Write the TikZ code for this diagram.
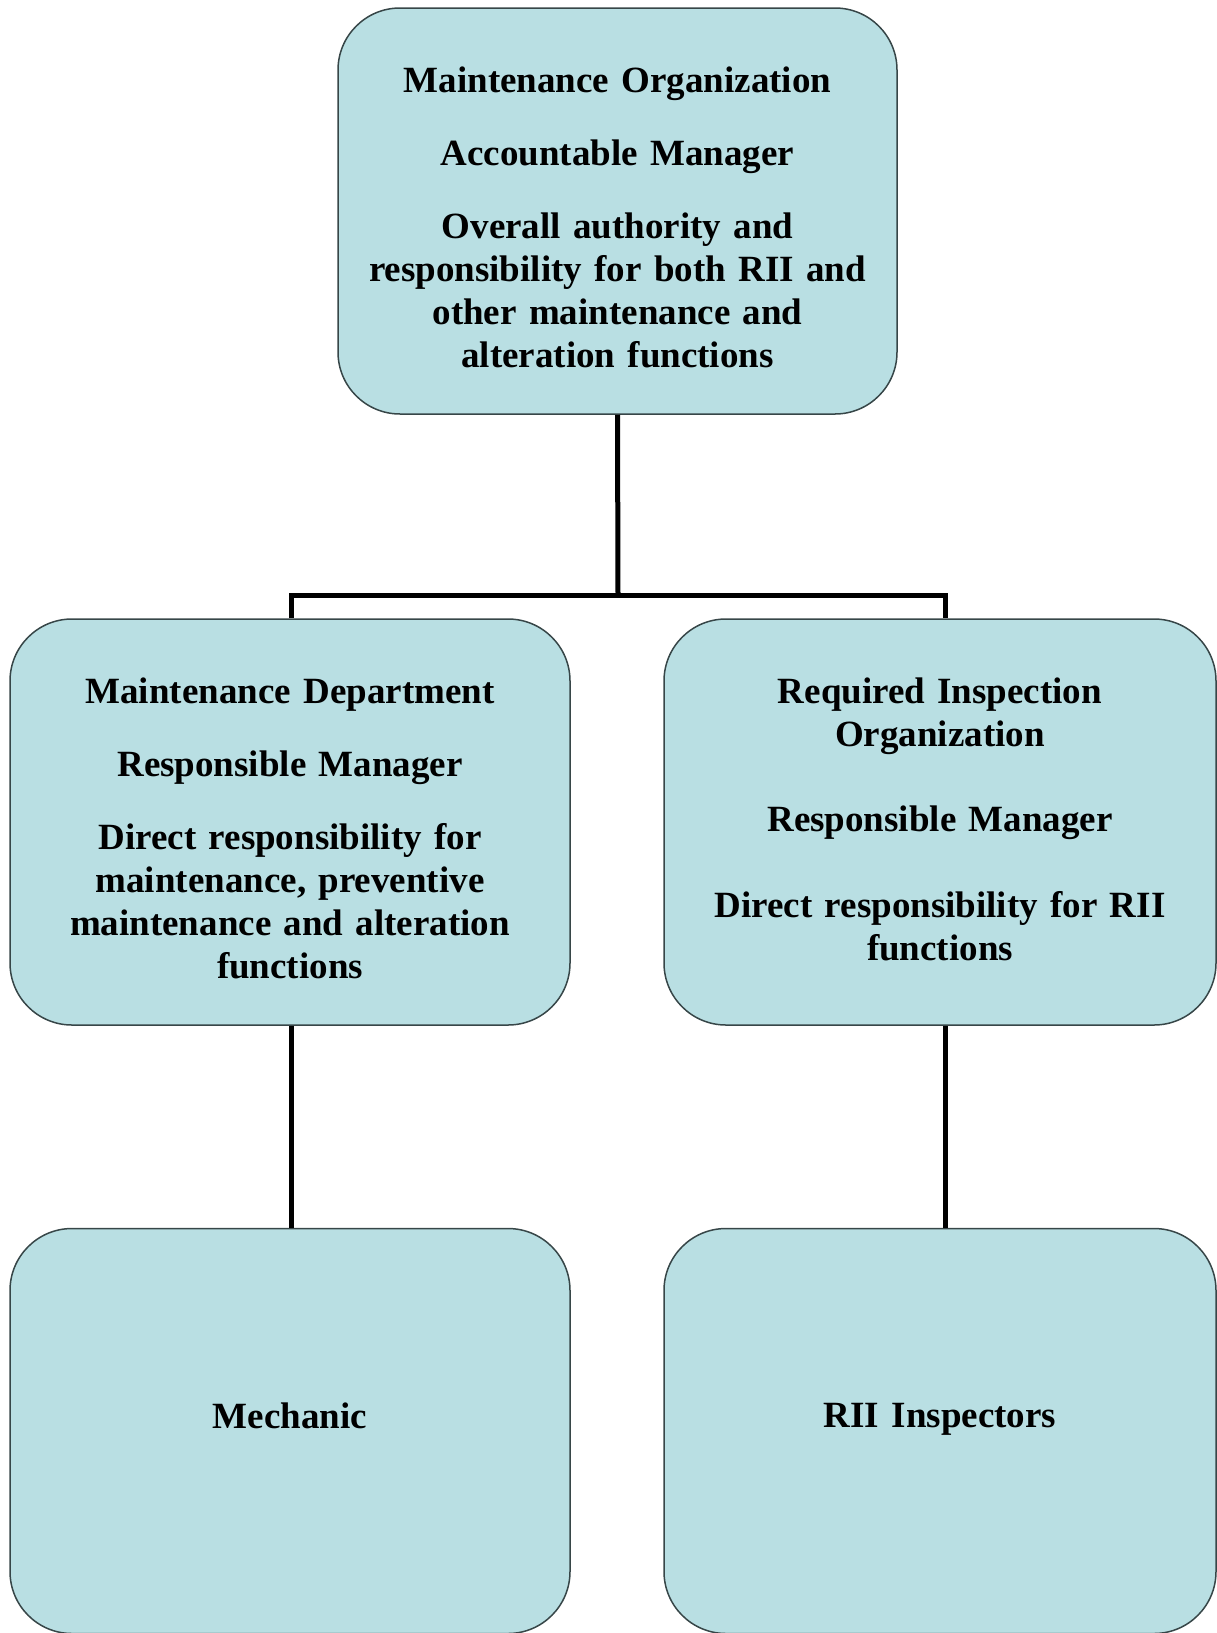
\documentclass[tikz,border=0pt]{standalone}
\usepackage{fontspec}
\setmainfont{Liberation Serif}
\definecolor{boxfill}{RGB}{185,223,227}
\definecolor{boxline}{RGB}{55,70,72}
\begin{document}
\begin{tikzpicture}[x=1pt,y=1pt,
  orgbox/.style={draw=boxline, line width=1.5pt, fill=boxfill, rounded corners=62pt,
    inner sep=0pt},
  boxtext/.style={anchor=base, align=center, text width=540pt, inner sep=0pt,
    font=\fontsize{37}{43}\selectfont\bfseries},
  link/.style={line width=5pt, black}]
\useasboundingbox (0,0) rectangle (1217,-1633);
\node[orgbox, minimum width=559pt, minimum height=406pt] (top) at (617.5,-211) {};
\node[orgbox, minimum width=560pt, minimum height=406pt] (md) at (290,-822) {};
\node[orgbox, minimum width=552pt, minimum height=406pt] (rio) at (940,-822) {};
\node[orgbox, minimum width=560pt, minimum height=405pt] (mech) at (290,-1431) {};
\node[orgbox, minimum width=552pt, minimum height=405pt] (insp) at (940,-1431) {};
\node[boxtext] (toptxt) at (617.5,-92)
  {Maintenance Organization\\[30pt]Accountable Manager\\[30pt]Overall authority and\\responsibility for both RII and\\other maintenance and\\alteration functions};
\node[boxtext] (mdtxt) at (290,-703)
  {Maintenance Department\\[30pt]Responsible Manager\\[30pt]Direct responsibility for\\maintenance, preventive\\maintenance and alteration\\functions};
\node[boxtext] (riotxt) at (940,-703)
  {Required Inspection\\Organization\\[42pt]Responsible Manager\\[43pt]Direct responsibility for RII\\functions};
\node[boxtext] (mechtxt) at (290,-1428) {Mechanic};
\node[boxtext] (insptxt) at (940,-1427) {RII Inspectors};
\coordinate (bar) at (618,-595);
\draw[link] (top.south) -- (bar);
\draw[link] (md.north -| 291,0) |- (bar) -| (rio.north -| 945,0);
\draw[link] (md.south -| 291,0) -- (mech.north -| 291,0);
\draw[link] (rio.south -| 945,0) -- (insp.north -| 945,0);
\end{tikzpicture}
\end{document}
